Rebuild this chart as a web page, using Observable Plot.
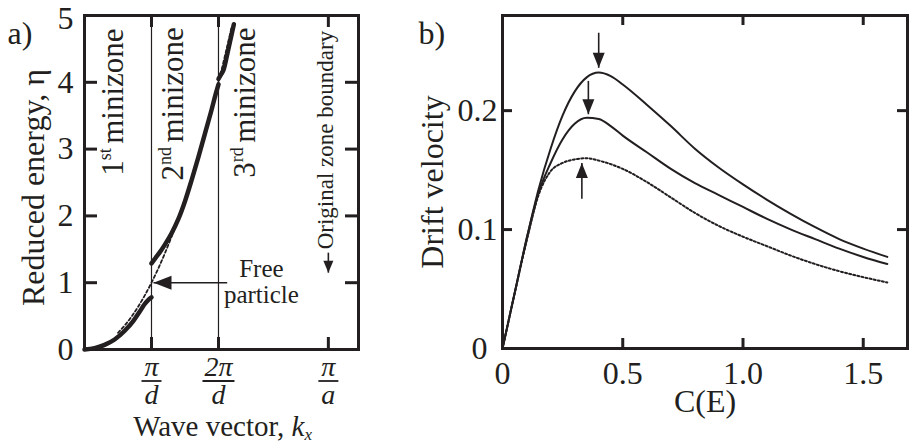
<!DOCTYPE html>
<html><head><meta charset="utf-8">
<script src="https://cdn.jsdelivr.net/npm/d3@7"></script>
<script src="https://cdn.jsdelivr.net/npm/@observablehq/plot@0.6"></script>
<style>
html,body{margin:0;padding:0;background:#fff;}
#wrap{display:flex;width:912px;height:444px;overflow:hidden;}
#a{width:380px;height:444px;flex:none;}
#b{width:532px;height:444px;flex:none;}
svg{max-width:none !important;display:block;}
</style></head><body>
<div id="wrap"><div id="a"></div><div id="b"></div></div>
<script>
const ink = "#231f20";
const serif = "'Liberation Serif', 'Times New Roman', Times, serif";

// ---------- Panel a: reduced energy vs wave vector (k in units of pi/d) ----------
const zone1K = [0, 0.15, 0.3, 0.45, 0.6, 0.73, 0.82, 0.89, 0.95, 1.0];
const zone1E = [0, 0.02, 0.07, 0.15, 0.28, 0.43, 0.56, 0.67, 0.74, 0.78];
const zone2K = [1.0, 1.06, 1.12, 1.2, 1.3, 1.4, 1.5, 1.6, 1.7, 1.8, 1.9, 1.96, 2.0];
const zone2E = [1.29, 1.37, 1.45, 1.57, 1.74, 1.95, 2.22, 2.54, 2.88, 3.24, 3.6, 3.83, 3.97];
const zone3K = [2.0, 2.04, 2.08, 2.12, 2.17, 2.23];
const zone3E = [4.05, 4.12, 4.2, 4.37, 4.6, 4.87];
const freeK = [0.5, 0.6, 0.7, 0.8, 0.9, 1.0, 1.1, 1.2, 1.4, 1.6, 1.8, 2.0, 2.1, 2.2];
const freeE = [0.25, 0.36, 0.49, 0.64, 0.81, 1.0, 1.21, 1.44, 1.96, 2.56, 3.24, 4.0, 4.41, 4.84];
const minizoneEdges = [1, 2];
const kTickValues = [1, 2, 3.64];
const kTickNum = ["π", "2π", "π"];
const kTickDen = ["d", "d", "a"];
const etaTicks = [0, 1, 2, 3, 4, 5];
const zoneNum = ["1", "2", "3"];
const zoneSup = ["st", "nd", "rd"];
const zoneLabelK = [0.57, 1.47, 2.55];
const zoneLabelE = [2.6, 2.53, 2.57];
const freeArrow = [{k1: 2.13, k2: 1.03, e: 1}];
const freeLabel = [{k: 2.64, e: 0.70, text: "Free\nparticle"}];
const boundaryArrow = [{k: 3.64, e1: 1.45, e2: 1.15}];
const boundaryLabel = [{k: 3.64, e: 1.5, text: "Original zone boundary"}];

// ---------- Panel b: drift velocity vs C(E) ----------
const cE   = [0, 0.05, 0.1, 0.15, 0.2, 0.25, 0.3, 0.35, 0.4, 0.45, 0.5, 0.6, 0.7, 0.8, 0.9, 1.0, 1.1, 1.2, 1.3, 1.4, 1.5, 1.6];
const vTop = [0, 0.046, 0.092, 0.134, 0.168, 0.196, 0.216, 0.228, 0.232, 0.229, 0.222, 0.205, 0.187, 0.168, 0.152, 0.138, 0.125, 0.113, 0.102, 0.092, 0.084, 0.077];
const vMid = [0, 0.046, 0.092, 0.131, 0.156, 0.176, 0.189, 0.194, 0.193, 0.187, 0.179, 0.165, 0.151, 0.139, 0.129, 0.119, 0.109, 0.1, 0.092, 0.084, 0.077, 0.071];
const vDot = [0, 0.046, 0.09, 0.129, 0.149, 0.156, 0.159, 0.16, 0.158, 0.155, 0.151, 0.14, 0.127, 0.114, 0.103, 0.094, 0.086, 0.078, 0.071, 0.065, 0.06, 0.0555];
const cTicks = [0, 0.5, 1.0, 1.5];
const vTicks = [0.1, 0.2];
const peakArrows = [
  {c: 0.40, tail: 0.2655, tip: 0.236, dir: 180},
  {c: 0.357, tail: 0.225, tip: 0.197, dir: 180},
  {c: 0.33, tail: 0.126, tip: 0.156, dir: 0}
];

// ---------- helpers ----------
const pts = (xs, ys) => xs.map((x, i) => ({x, y: ys[i]}));
function headSymbol(len, half) {
  return {draw(ctx) { ctx.moveTo(0, 0); ctx.lineTo(half, len); ctx.lineTo(-half, len); ctx.closePath(); }};
}
function barSymbol(half) {
  return {draw(ctx) { ctx.rect(-half, -0.9, 2 * half, 1.8); }};
}

// ---------- Panel a ----------
const aW = 380, aH = 444, aML = 84, aMR = 22, aMT = 15, aMB = 95;
const aIW = aW - aML - aMR, aIH = aH - aMT - aMB;
const zoneLabelMarks = zoneNum.flatMap((n, i) => {
  const supW = [12.5, 18.5, 15.5][i];
  const at = {x: () => zoneLabelK[i], y: () => zoneLabelE[i]};
  return [
    Plot.text([0], {...at, text: () => n, rotate: -90, textAnchor: "start", lineAnchor: "bottom", fontSize: 31}),
    Plot.text([0], {...at, text: () => zoneSup[i], rotate: -90, textAnchor: "start", lineAnchor: "bottom", fontSize: 18, dy: -15.5, dx: -12}),
    Plot.text([0], {...at, text: () => "minizone", rotate: -90, textAnchor: "start", lineAnchor: "bottom", fontSize: 31, dy: -(15.5 + supW + 4)})
  ];
});

const A = Plot.plot({
  width: aW, height: aH, marginLeft: aML, marginRight: aMR, marginTop: aMT, marginBottom: aMB,
  x: {domain: [0, 4.09], axis: null},
  y: {domain: [0, 5]},
  style: {fontFamily: serif, color: ink, background: "transparent", overflow: "visible"},
  marks: [
    Plot.ruleX(minizoneEdges, {x: d => d, stroke: ink, strokeWidth: 1.2}),
    Plot.line(pts(freeK, freeE), {x: "x", y: "y", stroke: ink, strokeWidth: 1.8, strokeDasharray: "3,2.5", curve: "monotone-x"}),
    Plot.line(pts(zone1K, zone1E), {x: "x", y: "y", stroke: ink, strokeWidth: 4.5, curve: "monotone-x"}),
    Plot.line(pts(zone2K, zone2E), {x: "x", y: "y", stroke: ink, strokeWidth: 4.5, curve: "monotone-x"}),
    Plot.line(pts(zone3K, zone3E), {x: "x", y: "y", stroke: ink, strokeWidth: 4.5, curve: "monotone-x"}),
    Plot.frame({stroke: ink, strokeWidth: 3}),
    Plot.tickY(etaTicks.slice(1, 5), {y: d => d, stroke: ink, strokeWidth: 3, insetRight: aIW - 13}),
    Plot.tickY(etaTicks.slice(1, 5), {y: d => d, stroke: ink, strokeWidth: 3, insetLeft: aIW - 13}),
    Plot.tickX(kTickValues, {x: d => d, stroke: ink, strokeWidth: 3, insetTop: aIH - 12}),
    Plot.tickX(kTickValues, {x: d => d, stroke: ink, strokeWidth: 3, insetBottom: aIH - 12}),
    Plot.axisY({ticks: etaTicks.slice(0, 5), tickSize: 0, tickPadding: 11, fontSize: 32, label: null, tickFormat: d => String(d)}),
    Plot.axisY({ticks: etaTicks.slice(5), tickSize: 0, tickPadding: 11, fontSize: 32, label: null, tickFormat: d => String(d), dy: 3}),
    // fraction tick labels
    Plot.text(kTickValues, {x: d => d, frameAnchor: "bottom", text: (d, i) => kTickNum[i], fontSize: 28, fontStyle: "italic", lineAnchor: "bottom", dy: 26}),
    Plot.dot(kTickValues.filter((d, i) => kTickNum[i].length === 1), {x: d => d, frameAnchor: "bottom", dy: 31.5, r: 3, symbol: barSymbol(10), fill: ink}),
    Plot.dot(kTickValues.filter((d, i) => kTickNum[i].length > 1), {x: d => d, frameAnchor: "bottom", dy: 31.5, r: 3, symbol: barSymbol(16), fill: ink}),
    Plot.text(kTickValues, {x: d => d, frameAnchor: "bottom", text: (d, i) => kTickDen[i], fontSize: 28, fontStyle: "italic", lineAnchor: "bottom", dy: 54}),
    // axis titles
    Plot.text(["Wave vector, "], {frameAnchor: "bottom", text: d => d, fontSize: 29, textAnchor: "end", lineAnchor: "bottom", dy: 86, dx: 70}),
    Plot.text(["k"], {frameAnchor: "bottom", text: d => d, fontSize: 29, fontStyle: "italic", textAnchor: "start", lineAnchor: "bottom", dy: 86, dx: 70}),
    Plot.text(["x"], {frameAnchor: "bottom", text: d => d, fontSize: 17, fontStyle: "italic", textAnchor: "start", lineAnchor: "bottom", dy: 90, dx: 83}),
    Plot.text(["Reduced energy, η"], {frameAnchor: "left", text: d => d, fontSize: 32, rotate: -90, textAnchor: "middle", lineAnchor: "bottom", dx: -41, dy: 5}),
    Plot.text(["a)"], {frameAnchor: "top-left", text: d => d, fontSize: 32, textAnchor: "start", lineAnchor: "bottom", dx: -77, dy: 28}),
    ...zoneLabelMarks,
    // free particle annotation
    Plot.link(freeArrow, {x1: "k1", x2: "k2", y1: "e", y2: "e", stroke: ink, strokeWidth: 1.6}),
    Plot.dot(freeArrow, {x: "k2", y: "e", r: 3, symbol: headSymbol(18, 7), rotate: -90, fill: ink}),
    Plot.text(freeLabel, {x: "k", y: "e", text: "text", fontSize: 25, lineAnchor: "bottom", lineHeight: 1.04}),
    // original zone boundary annotation
    Plot.text(boundaryLabel, {x: "k", y: "e", text: "text", fontSize: 23, rotate: -90, textAnchor: "start", lineAnchor: "bottom", dx: 5}),
    Plot.link(boundaryArrow, {x1: "k", x2: "k", y1: "e1", y2: "e2", stroke: ink, strokeWidth: 1.6}),
    Plot.dot(boundaryArrow, {x: "k", y: "e2", r: 3, symbol: headSymbol(12, 5), rotate: 180, fill: ink})
  ]
});
document.getElementById("a").append(A);

// ---------- Panel b ----------
const bW = 532, bH = 444, bML = 122, bMR = 5, bMT = 15, bMB = 96;
const bIW = bW - bML - bMR, bIH = bH - bMT - bMB;
const B = Plot.plot({
  width: bW, height: bH, marginLeft: bML, marginRight: bMR, marginTop: bMT, marginBottom: bMB,
  x: {domain: [0, 1.684]},
  y: {domain: [0, 0.28]},
  style: {fontFamily: serif, color: ink, background: "transparent", overflow: "visible"},
  marks: [
    Plot.line(pts(cE, vDot), {x: "x", y: "y", stroke: ink, strokeWidth: 2, strokeDasharray: "2,2.2", curve: "monotone-x"}),
    Plot.line(pts(cE, vMid), {x: "x", y: "y", stroke: ink, strokeWidth: 2, curve: "monotone-x"}),
    Plot.line(pts(cE, vTop), {x: "x", y: "y", stroke: ink, strokeWidth: 2, curve: "monotone-x"}),
    Plot.link(peakArrows, {x1: "c", x2: "c", y1: "tail", y2: "tip", stroke: ink, strokeWidth: 1.6}),
    Plot.dot(peakArrows, {x: "c", y: "tip", r: 3, symbol: headSymbol(15, 6), rotate: "dir", fill: ink}),
    Plot.frame({stroke: ink, strokeWidth: 3}),
    Plot.tickY(vTicks, {y: d => d, stroke: ink, strokeWidth: 3, insetRight: bIW - 10}),
    Plot.tickY(vTicks, {y: d => d, stroke: ink, strokeWidth: 3, insetLeft: bIW - 10}),
    Plot.tickX(cTicks.slice(1), {x: d => d, stroke: ink, strokeWidth: 3, insetTop: bIH - 10}),
    Plot.tickX(cTicks.slice(1), {x: d => d, stroke: ink, strokeWidth: 3, insetBottom: bIH - 10}),
    Plot.axisX({ticks: cTicks, tickSize: 0, tickPadding: 13, fontSize: 32, label: null, tickFormat: d => d === 0 ? "0" : d.toFixed(1)}),
    Plot.axisY({ticks: vTicks, tickSize: 0, tickPadding: 5, fontSize: 32, label: null, tickFormat: d => d.toFixed(1)}),
    Plot.axisY({ticks: [0], tickSize: 0, tickPadding: 15, fontSize: 32, label: null, tickFormat: d => "0"}),
    Plot.text(["C(E)"], {frameAnchor: "bottom", text: d => d, fontSize: 32, lineAnchor: "bottom", dy: 63}),
    Plot.text(["Drift velocity"], {frameAnchor: "left", text: d => d, fontSize: 32, rotate: -90, textAnchor: "middle", lineAnchor: "bottom", dx: -60}),
    Plot.text(["b)"], {frameAnchor: "top-left", text: d => d, fontSize: 32, textAnchor: "start", lineAnchor: "bottom", dx: -84, dy: 28})
  ]
});
document.getElementById("b").append(B);
</script>
</body></html>
